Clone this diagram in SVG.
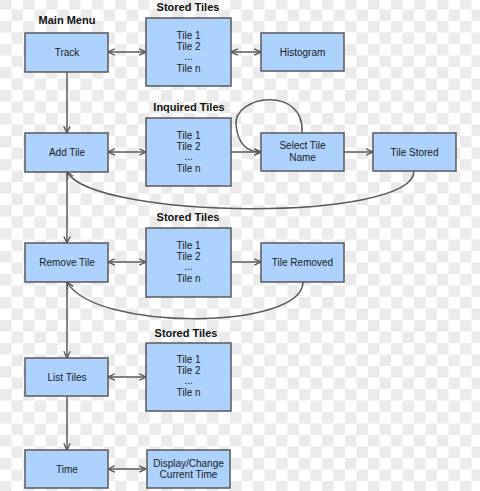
<svg xmlns="http://www.w3.org/2000/svg" width="480" height="491" viewBox="0 0 480 491">
<defs>
<pattern id="chk" x="0" y="-2" width="23" height="23" patternUnits="userSpaceOnUse">
<rect width="23" height="23" fill="#ffffff"/>
<rect width="11.5" height="11.5" fill="#ebebeb"/>
<rect x="11.5" y="11.5" width="11.5" height="11.5" fill="#ebebeb"/>
</pattern>
<marker id="ah" viewBox="0 0 10 10" refX="9.5" refY="5" markerWidth="8" markerHeight="8" markerUnits="userSpaceOnUse" orient="auto-start-reverse">
<path d="M1,1 L9.5,5 L1,9" fill="none" stroke="#555" stroke-width="1.6"/>
</marker>
<style>
.box{fill:#acd2fd;stroke:#5a5a5a;stroke-width:1.5}
.t{font-family:"Liberation Sans",Arial,sans-serif;font-size:10px;fill:#1a1a1a;text-anchor:middle}
.h{font-family:"Liberation Sans",Arial,sans-serif;font-size:11px;font-weight:bold;fill:#111;text-anchor:middle}
.c{fill:none;stroke:#5a5a5a;stroke-width:1.5}
</style>
</defs>
<rect width="480" height="491" fill="url(#chk)"/>

<g id="connectors">
<line class="c" x1="108" y1="52" x2="146" y2="52" marker-start="url(#ah)" marker-end="url(#ah)"/>
<line class="c" x1="231" y1="52" x2="261" y2="52" marker-start="url(#ah)" marker-end="url(#ah)"/>
<line class="c" x1="67" y1="72" x2="67" y2="133" marker-end="url(#ah)"/>
<line class="c" x1="108" y1="152" x2="146" y2="152" marker-start="url(#ah)" marker-end="url(#ah)"/>
<line class="c" x1="231" y1="152" x2="261" y2="152" marker-end="url(#ah)"/>
<path class="c" d="M302,133 C305,85 233,95 236,125 C238,145 248,152 261,152" marker-end="url(#ah)"/>
<line class="c" x1="344" y1="152" x2="373" y2="152" marker-end="url(#ah)"/>
<path class="c" d="M414,171 C414,222 95,220 67,172" marker-end="url(#ah)"/>
<line class="c" x1="67" y1="172" x2="67" y2="243" marker-end="url(#ah)"/>
<line class="c" x1="108" y1="262" x2="146" y2="262" marker-start="url(#ah)" marker-end="url(#ah)"/>
<line class="c" x1="231" y1="262" x2="261" y2="262" marker-end="url(#ah)"/>
<path class="c" d="M303,282 C303,330 95,332 67,282" marker-end="url(#ah)"/>
<line class="c" x1="67" y1="282" x2="67" y2="358" marker-end="url(#ah)"/>
<line class="c" x1="108" y1="377" x2="146" y2="377" marker-start="url(#ah)" marker-end="url(#ah)"/>
<line class="c" x1="67" y1="396" x2="67" y2="450" marker-end="url(#ah)"/>
<line class="c" x1="108" y1="469" x2="146" y2="469" marker-start="url(#ah)" marker-end="url(#ah)"/>
</g>

<g id="track">
<text class="h" x="67" y="24">Main Menu</text>
<rect class="box" x="25" y="33" width="83" height="39"/>
<text class="t" x="67" y="56">Track</text>
</g>
<g id="stored1">
<text class="h" x="188" y="11">Stored Tiles</text>
<rect class="box" x="146" y="18" width="85" height="68"/>
<text class="t" x="188.5" y="39">Tile 1</text>
<text class="t" x="188.5" y="50">Tile 2</text>
<text class="t" x="188.5" y="60">...</text>
<text class="t" x="188.5" y="72">Tile n</text>
</g>
<g id="histogram">
<rect class="box" x="261" y="33" width="83" height="38"/>
<text class="t" x="302.5" y="55.5">Histogram</text>
</g>

<g id="addtile">
<rect class="box" x="25" y="133" width="83" height="39"/>
<text class="t" x="67" y="156">Add Tile</text>
</g>
<g id="inquired">
<text class="h" x="189" y="111">Inquired Tiles</text>
<rect class="box" x="146" y="118" width="85" height="68"/>
<text class="t" x="188.5" y="139">Tile 1</text>
<text class="t" x="188.5" y="150">Tile 2</text>
<text class="t" x="188.5" y="160">...</text>
<text class="t" x="188.5" y="172">Tile n</text>
</g>
<g id="selectname">
<rect class="box" x="261" y="133" width="83" height="38"/>
<text class="t" x="302.5" y="149">Select Tile</text>
<text class="t" x="302.5" y="161">Name</text>
</g>
<g id="tilestored">
<rect class="box" x="373" y="133" width="83" height="38"/>
<text class="t" x="414.5" y="155.5">Tile Stored</text>
</g>

<g id="removetile">
<rect class="box" x="25" y="243" width="83" height="39"/>
<text class="t" x="67" y="266">Remove Tile</text>
</g>
<g id="stored2">
<text class="h" x="188" y="221">Stored Tiles</text>
<rect class="box" x="146" y="228" width="85" height="69"/>
<text class="t" x="188.5" y="249">Tile 1</text>
<text class="t" x="188.5" y="260">Tile 2</text>
<text class="t" x="188.5" y="270">...</text>
<text class="t" x="188.5" y="282">Tile n</text>
</g>
<g id="tileremoved">
<rect class="box" x="261" y="243" width="83" height="39"/>
<text class="t" x="302.5" y="266">Tile Removed</text>
</g>

<g id="listtiles">
<rect class="box" x="25" y="358" width="83" height="38"/>
<text class="t" x="67" y="380.5">List Tiles</text>
</g>
<g id="stored3">
<text class="h" x="186" y="337">Stored Tiles</text>
<rect class="box" x="146" y="343" width="85" height="68"/>
<text class="t" x="188.5" y="363">Tile 1</text>
<text class="t" x="188.5" y="374">Tile 2</text>
<text class="t" x="188.5" y="384">...</text>
<text class="t" x="188.5" y="396">Tile n</text>
</g>

<g id="time">
<rect class="box" x="25" y="450" width="83" height="38"/>
<text class="t" x="67" y="472.5">Time</text>
</g>
<g id="display">
<rect class="box" x="147" y="450" width="83" height="38"/>
<text class="t" x="188.5" y="466.5">Display/Change</text>
<text class="t" x="188.5" y="477.5">Current Time</text>
</g>
</svg>
